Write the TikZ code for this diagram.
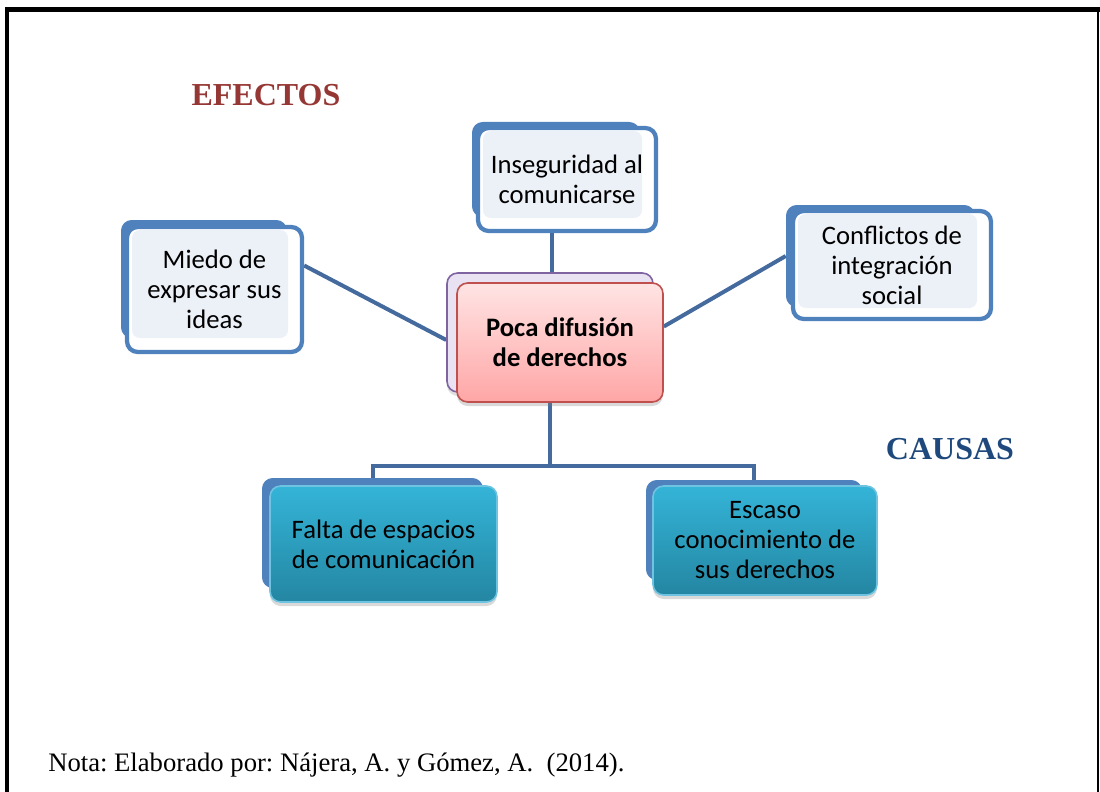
\documentclass[tikz,border=0pt]{standalone}
\usepackage{fontspec}
\setmainfont{Liberation Serif}
\newfontfamily\carl{Carlito}
\usetikzlibrary{fit,shadows,backgrounds,calc}
\frenchspacing
\definecolor{bback}{RGB}{79,129,189}
\definecolor{conn}{RGB}{68,106,158}
\definecolor{panelc}{RGB}{236,240,247}
\definecolor{tealtop}{RGB}{52,180,216}
\definecolor{tealbot}{RGB}{36,134,162}
\definecolor{tealbd}{RGB}{110,195,225}
\definecolor{redtop}{RGB}{255,228,228}
\definecolor{redbot}{RGB}{255,166,166}
\definecolor{redbd}{RGB}{192,80,77}
\definecolor{purfill}{RGB}{232,226,242}
\definecolor{purbd}{RGB}{128,100,162}
\definecolor{efc}{RGB}{149,55,52}
\definecolor{cac}{RGB}{31,73,125}
\tikzset{
  box/.style={inner sep=0pt, rounded corners=8pt},
  backbox/.style={box, fill=bback},
  frontbox/.style={box, fill=white, draw=bback, line width=3.2pt},
  panelbox/.style={box, rounded corners=6pt, fill=panelc},
  txt/.style={font=\carl\fontsize{20}{22.5}\selectfont, align=center, inner sep=0pt},
  bold txt/.style={txt, font=\carl\bfseries\fontsize{20}{22.5}\selectfont},
  tealbox/.style={box, top color=tealtop, bottom color=tealbot, draw=tealbd, line width=1.2pt,
     drop shadow={shadow xshift=0pt, shadow yshift=-3pt, opacity=0.3}},
  conline/.style={draw=conn, line width=3pt},
  heading/.style={font=\bfseries\fontsize{24}{28}\selectfont, inner sep=0pt},
}
\begin{document}
\begin{tikzpicture}[x=0.75pt,y=-0.75pt]
\useasboundingbox (0,0) rectangle (1100,792);
% frame
\draw[line width=3.8pt] (5,9.5) -- (1100,9.5);
\draw[line width=3pt] (7,8) -- (7,792);
\draw[line width=1.5pt] (1098,8) -- (1098,792);

% Miedo
\node[backbox, fit={(121,220) (287,338)}] (miedoB) {};
\node[frontbox, fit={(127,227) (302,352)}] (miedoF) {};
\node[panelbox, fit={(132,230) (288,338)}] (miedoP) {};
\node[txt] (miedoT) at (miedoF.center) {Miedo de\\expresar sus\\ideas};

% Inseguridad
\node[backbox, fit={(472,122) (640,217)}] (insB) {};
\node[frontbox, fit={(478,128) (656,231)}] (insF) {};
\node[panelbox, fit={(483,131) (642,218)}] (insP) {};
\node[txt] (insT) at (insF.center) {Inseguridad al\\comunicarse};

% Conflictos
\node[backbox, fit={(786,205) (975,307)}] (confB) {};
\node[frontbox, fit={(793,211) (991,319)}] (confF) {};
\node[panelbox, fit={(798,214) (977,308)}] (confP) {};
\node[txt] (confT) at (confF.center) {Conflictos de\\integración\\social};

% Center
\node[box, fill=purfill, draw=purbd, line width=1.2pt, drop shadow={shadow xshift=0pt, shadow yshift=-3pt, opacity=0.25}, fit={(447,273) (653,392)}] (cenB) {};
\node[box, top color=redtop, bottom color=redbot, draw=redbd, line width=1.2pt, drop shadow={shadow xshift=0pt, shadow yshift=-3pt, opacity=0.3}, fit={(457,283) (663,402)}] (cenF) {};
\node[bold txt] (cenT) at (cenF.center) {Poca difusión\\de derechos};

% Falta
\node[backbox, fit={(262,478) (483,588)}] (faltaB) {};
\node[tealbox, fit={(270,486) (497,602)}] (faltaF) {};
\node[txt] (faltaT) at (faltaF.center) {Falta de espacios\\de comunicación};

% Escaso
\node[backbox, fit={(646,480) (862,580)}] (escB) {};
\node[tealbox, fit={(653,486) (877,595)}] (escF) {};
\node[txt] (escT) at (escF.center) {Escaso\\conocimiento de\\sus derechos};

% connectors
\begin{pgfonlayer}{background}
\draw[conline] ([yshift=18pt]miedoF.east) -- ([yshift=-5.6pt]cenB.west);
\draw[conline] ([xshift=1.5pt]cenB.north |- insF.south) -- ([xshift=1.5pt]cenB.north);
\draw[conline] (confB.west) -- ([yshift=12pt]cenF.east);
\draw[conline] (cenB.south |- cenF.south) -- ++(0,63) coordinate (hub);
\draw[conline] (hub) -| (faltaB.north);
\draw[conline] (hub) -| (escB.north);
\end{pgfonlayer}

% labels
\node[heading, text=efc] (efectos) at (266,95) {EFECTOS};
\node[heading, text=cac] (causas) at (950,449) {CAUSAS};
\node[anchor=base west, inner sep=0pt, font=\fontsize{20}{24}\selectfont] (nota) at (48,771) {Nota: Elaborado por: Nájera, A. y Gómez, A.\ \ (2014).};
\end{tikzpicture}
\end{document}
